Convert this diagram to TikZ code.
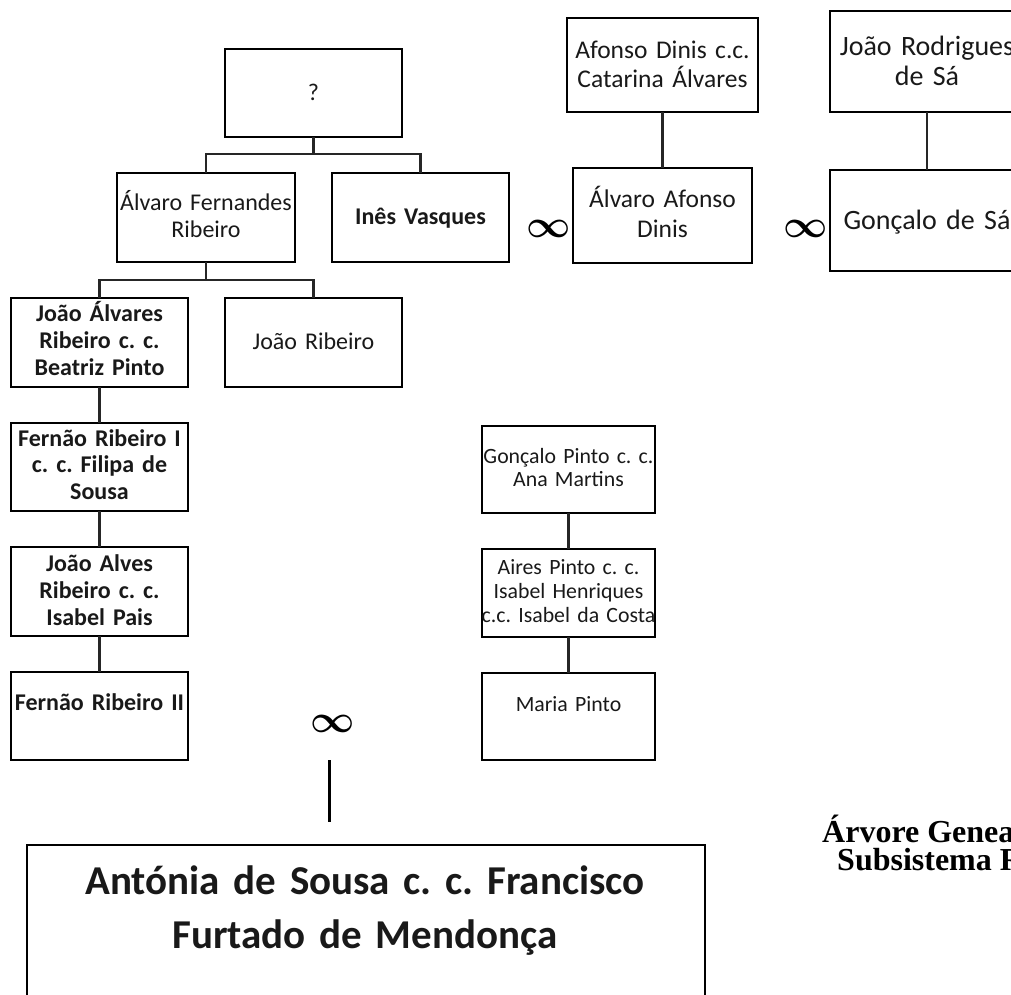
\documentclass[tikz,border=0pt]{standalone}
\usepackage{fontspec}
\setmainfont{Carlito}
\newfontfamily\titlefont{Liberation Serif}
\newcommand\fsz[2]{\fontsize{#1}{#2}\selectfont}
\newcommand\marriage{\scalebox{1.55}{\fsz{24.88}{26}\boldmath$\infty$}}
\frenchspacing
\begin{document}
\begin{tikzpicture}[x=1pt,y=-1pt,
  box/.style={draw, line width=2.3pt, rectangle, inner sep=0pt, outer sep=0pt},
  link/.style={line width=2.1pt, draw=black!85},
  txt/.style={anchor=base, align=center, inner sep=0pt, text width=320pt, text=black!90},
  inf/.style={inner sep=0pt}]
\useasboundingbox (0,0) rectangle (1011,994);
\clip (0,0) rectangle (1011,994);

% family boxes
\node[box, minimum width=177, minimum height=88] (q)    at (313.5,93)  {};
\node[box, minimum width=178, minimum height=89] (afr)  at (206,217.5) {};
\node[box, minimum width=177, minimum height=89] (ines) at (420.5,217.5) {};
\node[box, minimum width=191, minimum height=94] (adc)  at (662.5,65) {};
\node[box, minimum width=179, minimum height=95] (aad)  at (662.5,215.5) {};
\node[box, minimum width=194, minimum height=101] (jrs) at (927,61.5) {};
\node[box, minimum width=194, minimum height=101] (gs)  at (927,220.5) {};
\node[box, minimum width=177, minimum height=89] (jar)  at (99.5,342.5) {};
\node[box, minimum width=177, minimum height=89] (jrib) at (313.5,342.5) {};
\node[box, minimum width=177, minimum height=88] (fr1)  at (99.5,467) {};
\node[box, minimum width=177, minimum height=89] (jav)  at (99.5,591.5) {};
\node[box, minimum width=177, minimum height=88] (fr2)  at (99.5,716) {};
\node[box, minimum width=173, minimum height=87] (gp)   at (568.5,469.5) {};
\node[box, minimum width=173, minimum height=88] (ap)   at (568.5,593) {};
\node[box, minimum width=173, minimum height=87] (mp)   at (568.5,716.5) {};
\node[box, line width=1.6pt, minimum width=678, minimum height=165] (afs) at (366,927.5) {};

% names
\node[txt, font=\fsz{24}{26.7}] (tq) at (313.5,100) {?};
\node[txt, font=\fsz{24}{26.7}] (tafr) at (206,210.7) {Álvaro Fernandes\\Ribeiro};
\node[txt, font=\fsz{24}{26.7}\bfseries] (tines) at (420.5,224) {Inês Vasques};
\node[txt, font=\fsz{25.5}{29}] (tadc) at (662.5,58) {Afonso Dinis c.c.\\Catarina Álvares};
\node[txt, font=\fsz{25.5}{29.3}] (taad) at (662.5,207.7) {Álvaro Afonso\\Dinis};
\node[txt, font=\fsz{28}{30}] (tjrs) at (927,55) {João Rodrigues\\de Sá};
\node[txt, font=\fsz{28}{30}] (tgs) at (927,229) {Gonçalo de Sá};
\node[txt, font=\fsz{24}{26.7}\bfseries] (tjar) at (99.5,321.7) {João Álvares\\Ribeiro c. c.\\Beatriz Pinto};
\node[txt, font=\fsz{24}{26.7}] (tjrib) at (313.5,349) {João Ribeiro};
\node[txt, font=\fsz{24}{26.7}\bfseries] (tfr1) at (99.5,446) {Fernão Ribeiro I\\c. c. Filipa de\\Sousa};
\node[txt, font=\fsz{24}{26.7}\bfseries] (tjav) at (99.5,571.7) {João Alves\\Ribeiro c. c.\\Isabel Pais};
\node[txt, font=\fsz{24}{26.7}\bfseries] (tfr2) at (99.5,710.7) {Fernão Ribeiro II};
\node[txt, font=\fsz{21.8}{23.5}] (tgp) at (568.5,463) {Gonçalo Pinto c. c.\\Ana Martins};
\node[txt, font=\fsz{21.8}{24.3}] (tap) at (568.5,574) {Aires Pinto c. c.\\Isabel Henriques\\c.c. Isabel da Costa};
\node[txt, font=\fsz{21.8}{24}] (tmp) at (568.5,711.7) {Maria Pinto};
\node[txt, text width=660pt, font=\fsz{41}{54}\bfseries] (tafs) at (365,894) {Antónia de Sousa c. c. Francisco\\Furtado de Mendonça};

% marriage signs
\node[inf] (m1) at (548.5,228.5) {\marriage};
\node[inf] (m2) at (806,228.5) {\marriage};
\node[inf] (m3) at (332.5,723.5) {\marriage};

% descent lines
\draw[link] (q.south) -- ++(0,17) -| (afr.north);
\draw[link] (q.south) -- ++(0,17) -| (ines.north);
\draw[link] (afr.south) -- ++(0,18) -| (jar.north);
\draw[link] (afr.south) -- ++(0,18) -| (jrib.north);
\draw[link] (jar) -- (fr1);
\draw[link] (fr1) -- (jav);
\draw[link] (jav) -- (fr2);
\draw[link] (adc) -- (aad);
\draw[link] (jrs) -- (gs);
\draw[link] (gp) -- (ap);
\draw[link] (ap) -- (mp);
\coordinate (d1) at (329.5,760);
\coordinate (d2) at (329.5,822);
\draw[line width=2.4pt] (d1) -- (d2);

% caption
\node[anchor=base west, inner sep=0pt, font=\titlefont\fsz{32}{28}\bfseries] (cap1) at (822,842) {Árvore Genea};
\node[anchor=base west, inner sep=0pt, font=\titlefont\fsz{32}{28}\bfseries] (cap2) at (837,870) {Subsistema R};
\end{tikzpicture}
\end{document}
